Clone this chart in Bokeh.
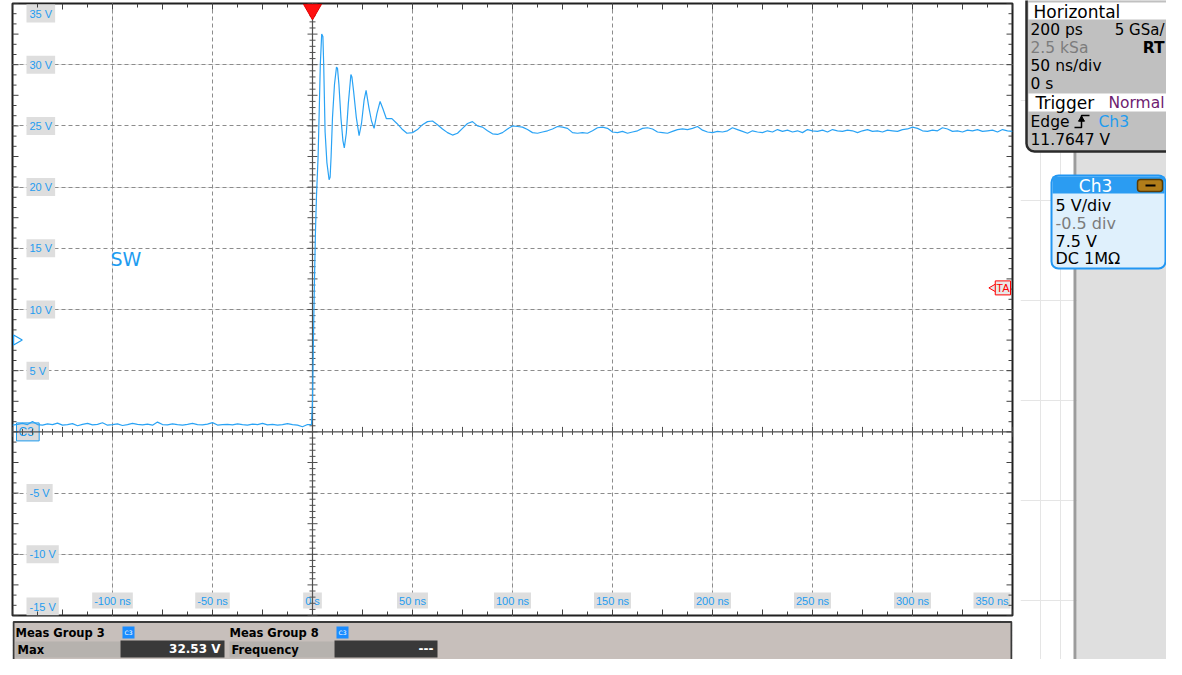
import numpy as np
from bokeh.plotting import figure
from bokeh.models import Range1d, Grid, FixedTicker
from bokeh.layouts import row, column
from bokeh.embed import file_html
from bokeh.resources import INLINE
from bokeh.core.properties import value

# ---------------- data ----------------
# pre-trigger samples (every 2.5 ns from -150 ns)
pre_v = [0.55, 0.62, 0.7, 0.6, 0.85, 0.6, 0.55, 0.65, 0.6, 0.72,
         0.55, 0.6, 0.68, 0.5, 0.62, 0.7, 0.58, 0.62, 0.75, 0.55,
         0.6, 0.66, 0.52, 0.6, 0.7, 0.62, 0.58, 0.64, 0.55, 0.8,
         0.6, 0.58, 0.66, 0.6, 0.55, 0.62, 0.7, 0.6, 0.58, 0.63,
         0.76, 0.56, 0.6, 0.62, 0.58, 0.66, 0.6, 0.55, 0.64, 0.6,
         0.7, 0.58, 0.62, 0.55, 0.6, 0.68, 0.6, 0.55, 0.42, 0.6]
# edge and ringing
ring_t = [-0.5, 0.0, 0.5, 1.0, 1.5, 2.0, 2.8, 3.4, 3.9, 4.6, 5.2, 5.6, 6.3, 7.2, 8.3,
          8.8, 9.3, 10.0, 11.0, 12.0, 12.5, 13.2, 14.2, 15.2, 15.9, 16.9, 17.9, 19.2,
          19.7, 20.5, 21.9, 23.3, 24.5, 25.8, 26.8, 28.2, 29.5, 30.8, 32.2, 33.8, 35.2,
          36.9, 39.7, 42.2, 44.7, 47.2]
ring_v = [0.6, 2.5, 8.0, 12.5, 16.5, 19.3, 22.5, 26.5, 30.0, 32.5, 32.3, 30.0, 24.5, 22.0, 20.6,
          20.8, 22.5, 25.7, 28.4, 29.8, 29.7, 28.4, 25.7, 23.8, 23.2, 24.4, 26.8, 29.2,
          29.0, 27.9, 25.7, 24.2, 25.2, 27.1, 27.9, 26.5, 25.4, 24.8, 26.0, 27.0, 26.4,
          25.6, 25.6, 25.2, 24.75, 24.4]
# settled samples (every 2.5 ns from 50 ns)
post_v = [24.45, 24.7, 25.1, 25.35, 25.4, 25.1, 24.75, 24.45, 24.25, 24.4,
          24.8, 25.2, 25.35, 25.0, 24.9, 24.6, 24.35, 24.3, 24.45, 24.75,
          25.0, 24.95, 24.9, 24.7, 24.45, 24.4, 24.5, 24.6, 24.75, 24.95,
          24.9, 24.8, 24.45, 24.4, 24.45, 24.4, 24.6, 24.85, 24.9, 24.8,
          24.5, 24.45, 24.55, 24.4, 24.5, 24.6, 24.8, 24.85, 24.75, 24.5,
          24.45, 24.4, 24.55, 24.7, 24.75, 24.7, 24.8, 24.95, 24.65, 24.5,
          24.45, 24.55, 24.5, 24.6, 24.85, 24.7, 24.55, 24.4, 24.6, 24.5,
          24.45, 24.6, 24.5, 24.7, 24.55, 24.65, 24.5, 24.6, 24.45, 24.7,
          24.6, 24.55, 24.65, 24.5, 24.7, 24.6, 24.55, 24.65, 24.6, 24.45,
          24.6, 24.7, 24.55, 24.6, 24.5, 24.65, 24.6, 24.55, 24.7, 24.75,
          24.9, 24.8, 24.6, 24.55, 24.65, 24.6, 24.85, 24.75, 24.55, 24.6,
          24.5, 24.65, 24.6, 24.7, 24.55, 24.6, 24.65, 24.5, 24.7, 24.6,
          24.55]
SAMPLE_NS = 2.5
pre_t = [-150 + SAMPLE_NS * i for i in range(len(pre_v))]
post_t = [50 + SAMPLE_NS * i for i in range(len(post_v))]

x_ticks = [-100, -50, 0, 50, 100, 150, 200, 250, 300, 350]
x_tick_labels = ["-100 ns", "-50 ns", "0 s", "50 ns", "100 ns", "150 ns", "200 ns", "250 ns", "300 ns", "350 ns"]
y_ticks = [35, 30, 25, 20, 15, 10, 5, -5, -10, -15]
y_tick_labels = ["35 V", "30 V", "25 V", "20 V", "15 V", "10 V", "5 V", "-5 V", "-10 V", "-15 V"]

trig_level = 11.7647
ch_offset = 7.5
meas_max = "32.53 V"

# ---------------- styling ----------------
BLUE = "#1e9cf0"
TRACE = "#2aa3f5"
X0, X1, Y0, Y1 = -150, 350, -15, 35
FW, FH = 1000, 612
NSPP = (X1 - X0) / FW
VPP = (Y1 - Y0) / FH
LBL_FONT = value("Liberation Sans")
UI_FONT = value("DejaVu Sans")

p = figure(frame_width=FW, frame_height=FH, min_border_left=12, min_border_right=8,
           min_border_top=3, min_border_bottom=5, x_range=Range1d(X0, X1), y_range=Range1d(Y0, Y1),
           x_axis_location=None, y_axis_location=None, toolbar_location=None,
           output_backend="svg", title=None)
p.outline_line_color = "#202020"
p.outline_line_width = 2
p.background_fill_color = "white"
p.border_fill_color = "white"

grid_x = [t for t in range(-100, 350, 50) if t != 0]
grid_y = [v for v in range(-10, 35, 5) if v != 0]
p.add_layout(Grid(dimension=0, ticker=FixedTicker(ticks=grid_x), grid_line_color="#8c8c8c",
                  grid_line_dash="4 3", grid_line_width=1))
p.add_layout(Grid(dimension=1, ticker=FixedTicker(ticks=grid_y), grid_line_color="#8c8c8c",
                  grid_line_dash="4 3", grid_line_width=1))

# y tick labels (inside, left)
ylab_y = []
for v in y_ticks:
    if v == Y1:
        ylab_y.append(v - 10 * VPP)
    elif v == Y0:
        ylab_y.append(v + 9 * VPP)
    else:
        ylab_y.append(v)
p.text(x=[X0 + 14 * NSPP] * len(y_ticks), y=ylab_y, text=y_tick_labels, text_font=LBL_FONT,
       text_font_size="11px", text_color=BLUE, text_align="left", text_baseline="middle",
       background_fill_color="#dedede", padding=3)

# x tick labels (inside, bottom)
xl_y = Y0 + 15 * VPP
p.text(x=x_ticks[:-1], y=[xl_y] * (len(x_ticks) - 1), text=x_tick_labels[:-1], text_font=LBL_FONT,
       text_font_size="11px", text_color=BLUE, text_align="center", text_baseline="middle",
       background_fill_color="#dedede", padding=2)
p.text(x=[x_ticks[-1] - 2 * NSPP], y=[xl_y], text=[x_tick_labels[-1]], text_font=LBL_FONT,
       text_font_size="11px", text_color=BLUE, text_align="right", text_baseline="middle",
       background_fill_color="#dedede", padding=2)

# channel ground marker
p.text(x=[X0 + 4 * NSPP], y=[0], text=["C3 "], text_font=LBL_FONT, text_font_size="12px",
       text_color=BLUE, text_align="left", text_baseline="middle",
       background_fill_color="#dcdcdc", border_line_color=BLUE, padding=2)

# center axes with ticks
p.segment(x0=[0, X0], y0=[Y0, 0], x1=[0, X1], y1=[Y1, 0], line_color="#505050", line_width=1.2)
vt = np.arange(Y0, Y1 + 0.01, 0.5)
vt_len = np.where(np.isclose(vt % 2.5, 0) | np.isclose(vt % 2.5, 2.5), 5, 3) * NSPP
p.segment(x0=-vt_len, y0=vt, x1=vt_len, y1=vt, line_color="#505050", line_width=1)
ht = np.arange(X0, X1 + 0.01, 5.0)
ht_len = np.where(np.isclose(ht % 25, 0), 5, 3) * VPP
p.segment(x0=ht, y0=-ht_len, x1=ht, y1=ht_len, line_color="#505050", line_width=1)

# border ticks
bt = np.arange(X0, X1 + 0.01, 12.5)
bt_len = np.where(np.isclose(bt % 25, 0), 6, 4) * VPP
p.segment(x0=bt, y0=Y0, x1=bt, y1=Y0 + bt_len, line_color="#404040", line_width=1)
p.segment(x0=bt, y0=Y1, x1=bt, y1=Y1 - bt_len, line_color="#404040", line_width=1)
lt = np.arange(Y0, Y1 + 0.01, 5 / 6)
lt_len = np.where(np.isclose((lt - Y0) % 2.5, 0, atol=1e-6) | np.isclose((lt - Y0) % 2.5, 2.5, atol=1e-6), 6, 4) * NSPP
p.segment(x0=X0, y0=lt, x1=X0 + lt_len, y1=lt, line_color="#404040", line_width=1)
p.segment(x0=X1, y0=lt, x1=X1 - lt_len, y1=lt, line_color="#404040", line_width=1)

# trace
p.line(pre_t + ring_t + post_t, pre_v + ring_v + post_v, line_color=TRACE, line_width=1.2)

# markers
p.scatter(x=[0], y=[Y1 - 6 * VPP], marker="inverted_triangle", size=18, fill_color="#ff1010",
          line_color="#e00000")
p.scatter(x=[X0 + 4 * NSPP], y=[ch_offset], marker="triangle", angle=-np.pi / 2, size=10,
          fill_color="white", line_color=BLUE, line_width=1.2)
p.scatter(x=[X1 - 19 * NSPP], y=[trig_level], marker="triangle", angle=np.pi / 2, size=8,
          fill_color="#e8e8e8", line_color="#ff0000", line_width=1)
p.text(x=[X1 - 2 * NSPP], y=[trig_level], text=["TA"], text_font=LBL_FONT, text_font_size="11px",
       text_color="#ff0000", text_align="right", text_baseline="middle",
       background_fill_color="#e8e8e8", border_line_color="#ff0000", padding=1)
p.text(x=[X0 + 98 * NSPP], y=[(431 - 258) / 12.24], text=["SW"], text_font=UI_FONT,
       text_font_size="19px", text_color=BLUE, text_align="left", text_baseline="middle")

# ---------------- measurement panel ----------------
m = figure(frame_width=1000, height=39, min_border_left=12, min_border_right=8,
           min_border_top=0, min_border_bottom=0,
           x_range=Range1d(12, 1012), y_range=Range1d(659, 620),
           x_axis_location=None, y_axis_location=None, toolbar_location=None,
           output_backend="svg", title=None)
m.outline_line_color = None
m.background_fill_color = "white"
m.border_fill_color = "white"
m.quad(left=[13], right=[1011], top=[621.5], bottom=[680], fill_color="#c7bfbb",
       line_color="#3a3a3a", line_width=2)
m.quad(left=[15, 229], right=[120, 334], top=[641, 641], bottom=[657, 657],
       fill_color="#b6b2ae", line_color=None)
m.quad(left=[120, 334], right=[224, 437], top=[640, 640], bottom=[657, 657],
       fill_color="#393939", line_color=None)
m.quad(left=[122, 336], right=[134, 348], top=[626, 626], bottom=[638, 638],
       fill_color="#1a8cff", line_color=None)
m.text(x=[128, 342], y=[632, 632], text=["C3", "C3"], text_font=UI_FONT, text_font_size="6px",
       text_color="white", text_align="center", text_baseline="middle")
m.text(x=[15, 229], y=[632, 632], text=["Meas Group 3", "Meas Group 8"], text_font=UI_FONT,
       text_font_size="11.5px", text_font_style="bold", text_color="black",
       text_align="left", text_baseline="middle")
m.text(x=[17, 231], y=[649, 649], text=["Max", "Frequency"], text_font=UI_FONT,
       text_font_size="11.5px", text_font_style="bold", text_color="black",
       text_align="left", text_baseline="middle")
m.text(x=[220, 433], y=[648, 648], text=[meas_max, "---"], text_font=UI_FONT,
       text_font_size="12px", text_font_style="bold", text_color="white",
       text_align="right", text_baseline="middle")

# ---------------- side panel ----------------
s = figure(width=146, height=659, x_range=Range1d(1020, 1166), y_range=Range1d(659, 0),
           min_border=0, x_axis_location=None, y_axis_location=None, toolbar_location=None,
           output_backend="svg", title=None)
s.outline_line_color = None
s.background_fill_color = "white"
s.border_fill_color = "white"
s.quad(left=[1076], right=[1180], top=[0], bottom=[680], fill_color="#dfdfdf", line_color=None)
s.quad(left=[1073], right=[1076], top=[150], bottom=[680], fill_color="#9c9c9c", line_color=None)
# horizontal / trigger box
s.quad(left=[1026], right=[1195], top=[-8], bottom=[151], fill_color="#c0c0c0",
       line_color="#2a2a2a", line_width=2.5, border_radius=8)
s.quad(left=[1028, 1028], right=[1190, 1190], top=[2, 93], bottom=[19, 111],
       fill_color="white", line_color=None)
s.text(x=[1033, 1035], y=[11, 102], text=["Horizontal", "Trigger"], text_font=UI_FONT,
       text_font_size="17px", text_color="black", text_align="left", text_baseline="middle")
s.text(x=[1164], y=[102], text=["Normal"], text_font=UI_FONT, text_font_size="15.5px",
       text_color="#6e1c70", text_align="right", text_baseline="middle")
s.text(x=[1030, 1030, 1030, 1030, 1030], y=[29, 47, 65, 83, 139],
       text=["200 ps", "2.5 kSa", "50 ns/div", "0 s", "11.7647 V"], text_font=UI_FONT,
       text_font_size="15.5px", text_color=["black", "#7c7c7c", "black", "black", "black"],
       text_align="left", text_baseline="middle")
s.text(x=[1030], y=[121], text=["Edge"], text_font=UI_FONT, text_font_size="15.5px",
       text_color="black", text_align="left", text_baseline="middle")
s.text(x=[1098], y=[121], text=["Ch3"], text_font=UI_FONT, text_font_size="15.5px",
       text_color=BLUE, text_align="left", text_baseline="middle")
s.text(x=[1164], y=[29], text=["5 GSa/"], text_font=UI_FONT, text_font_size="15px",
       text_color="black", text_align="right", text_baseline="middle")
s.text(x=[1164], y=[47], text=["RT"], text_font=UI_FONT, text_font_size="15.5px",
       text_font_style="bold", text_color="black", text_align="right", text_baseline="middle")
s.line(x=[1074, 1081, 1081, 1089], y=[127, 127, 115, 115], line_color="black", line_width=1.5)
s.scatter(x=[1081], y=[119], marker="triangle", size=6, fill_color="black", line_color="black")
# channel box
s.quad(left=[1051], right=[1165], top=[175], bottom=[268], fill_color="#dff0fc",
       line_color="#2196f3", line_width=2, border_radius=7)
s.quad(left=[1052], right=[1164], top=[176], bottom=[193], fill_color="#2b9cf2", line_color=None)
s.text(x=[1095], y=[185], text=["Ch3"], text_font=UI_FONT, text_font_size="17px",
       text_color="white", text_align="center", text_baseline="middle")
s.quad(left=[1137], right=[1162], top=[179], bottom=[191], fill_color="#b07d1a",
       line_color="#5a3c05", line_width=1.5, border_radius=3)
s.segment(x0=[1145], y0=[185], x1=[1155], y1=[185], line_color="black", line_width=2)
s.text(x=[1055] * 4, y=[205, 223, 241, 258], text=["5 V/div", "-0.5 div", "7.5 V", "DC 1MΩ"],
       text_font=UI_FONT, text_font_size="16px",
       text_color=["black", "#7c7c7c", "black", "black"],
       text_align="left", text_baseline="middle")

layout = row(column(p, m, spacing=0), s, spacing=0)
open("out.html", "w").write(file_html(layout, INLINE))
